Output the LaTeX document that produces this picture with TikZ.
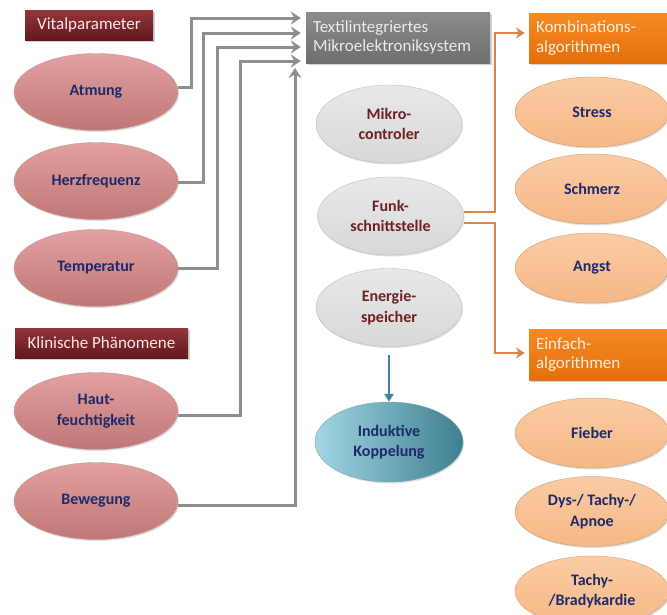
\documentclass[tikz,border=0pt]{standalone}
\usepackage{fontspec}
\setmainfont{Carlito}
\usetikzlibrary{shapes.geometric,arrows.meta,shadows}
\definecolor{hredT}{HTML}{93353A}
\definecolor{hredB}{HTML}{61181C}
\definecolor{hgrayT}{HTML}{8C8C8C}
\definecolor{hgrayB}{HTML}{6E6E6E}
\definecolor{horT}{HTML}{F58A22}
\definecolor{horB}{HTML}{E5700E}
\definecolor{rellT}{HTML}{E2A0A0}
\definecolor{rellB}{HTML}{C07676}
\definecolor{gellT}{HTML}{E8E8E8}
\definecolor{gellB}{HTML}{D8D8D8}
\definecolor{pellT}{HTML}{FBCBA3}
\definecolor{pellB}{HTML}{F5B886}
\definecolor{tellL}{HTML}{A2D6E3}
\definecolor{tellR}{HTML}{3E7F8F}
\definecolor{navy}{HTML}{1C2A6B}
\definecolor{dred}{HTML}{6E1F25}
\definecolor{gline}{HTML}{8E8E8E}
\definecolor{oline}{HTML}{DD8445}
\definecolor{tline}{HTML}{3C8797}
\tikzset{
  hdrbox/.style={rectangle, inner sep=0pt, font=\fontsize{17}{19.5}\selectfont,
    drop shadow={shadow xshift=1.5pt, shadow yshift=-1.5pt, opacity=0.35}},
  ellbase/.style={ellipse, inner sep=0pt, align=center,
    font=\bfseries\fontsize{16}{20.5}\selectfont,
    drop shadow={shadow xshift=1pt, shadow yshift=-1.5pt, opacity=0.25}},
  redell/.style={ellbase, minimum width=164pt, minimum height=77pt,
    top color=rellT, bottom color=rellB, draw=rellB!80!black!60, line width=0.4pt, text=navy},
  grayell/.style={ellbase, minimum width=146pt, minimum height=78pt,
    top color=gellT, bottom color=gellB, draw=black!25, line width=0.4pt, text=dred},
  peachell/.style={ellbase, minimum width=154pt, minimum height=70pt,
    top color=pellT, bottom color=pellB, draw=pellB!80!black, line width=0.3pt, text=navy},
  tealell/.style={ellbase, minimum width=148pt, minimum height=80pt,
    left color=tellL, right color=tellR, draw=tellR!70, line width=0.4pt, text=navy},
  garrow/.style={draw=gline, line width=3pt, -{Stealth[length=10pt,width=13pt,inset=3.5pt]}},
  oarrow/.style={draw=oline, line width=2.6pt, -{Stealth[length=9pt,width=11pt,inset=3pt]}},
  tarrow/.style={draw=tline, line width=2.4pt, -{Triangle[length=8pt,width=9pt]}}
}
\begin{document}
\begin{tikzpicture}[x=1pt,y=-1pt]
\useasboundingbox (0,0) rectangle (667,614);
\fill[white] (0,0) rectangle (667,614);
% header boxes
\node[hdrbox, top color=hredT, bottom color=hredB, text=white!90!red,
  minimum width=128pt, minimum height=30pt] (vital) at (89,25) {Vitalparameter};
\node[hdrbox, top color=hredT, bottom color=hredB, text=white!90!red,
  minimum width=173pt, minimum height=30pt] (klin) at (101.5,343) {Klinische Phänomene};
\node[hdrbox, top color=hgrayT, bottom color=hgrayB, text=white!92!black,
  minimum width=184pt, minimum height=51pt, text width=170pt, align=left] (tims) at (398,37.5)
  {Textilintegriertes\\Mikroelektroniksystem};
\node[hdrbox, top color=horT, bottom color=horB, text=white!85!orange,
  minimum width=143pt, minimum height=50pt, text width=129pt, align=left] (kombi) at (600.5,38)
  {Kombinations-\\algorithmen};
\node[hdrbox, top color=horT, bottom color=horB, text=white!85!orange,
  minimum width=143pt, minimum height=51pt, text width=129pt, align=left] (einf) at (600.5,354.5)
  {Einfach-\\algorithmen};
% left ellipses
\node[redell] (atm) at (96,92) {Atmung};
\node[redell] (herz) at (96,181) {Herzfrequenz};
\node[redell] (temp) at (96,268) {Temperatur};
\node[redell] (haut) at (96,411) {Haut-\\feuchtigkeit};
\node[redell] (bew) at (96,501) {Bewegung};
% middle ellipses
\node[grayell] (mikro) at (389,124) {Mikro-\\controler};
\node[grayell] (funk) at (390.5,216) {Funk-\\schnittstelle};
\node[grayell] (energ) at (389,307.5) {Energie-\\speicher};
\node[tealell] (induk) at (389,442) {Induktive\\Koppelung};
% right ellipses
\node[peachell] (stress) at (592,112) {Stress};
\node[peachell] (schm) at (592,189) {Schmerz};
\node[peachell] (angst) at (592,268) {Angst};
\node[peachell] (fieb) at (592,433) {Fieber};
\node[peachell] (dys) at (592,511.5) {Dys-/ Tachy-/\\Apnoe};
\node[peachell] (tachy) at (592,591) {Tachy-\\/Bradykardie};
% gray connectors
\coordinate (c1) at (191,18);
\coordinate (c2) at (203,33);
\coordinate (c3) at (217,47);
\coordinate (c4) at (240,61);
\coordinate (btip) at (295,68);
\draw[garrow, shorten >=5pt] ([yshift=5pt]atm.east) -| (c1) -- ([yshift=19.5pt]tims.west);
\draw[garrow, shorten >=5pt] ([yshift=-1pt]herz.east) -| (c2) -- ([yshift=4.5pt]tims.west);
\draw[garrow, shorten >=5pt] (temp.east) -| (c3) -- ([yshift=-9.5pt]tims.west);
\draw[garrow, shorten >=5pt] ([yshift=-4pt]haut.east) -| (c4) -- ([yshift=-23.5pt]tims.west);
\draw[garrow] ([yshift=-4pt]bew.east) -| (btip);
% orange connectors
\coordinate (o1) at (495,33);
\coordinate (o2) at (495,353);
\draw[oarrow, shorten >=4pt] ([yshift=4pt]funk.east) -| (o1) -- ([yshift=5pt]kombi.west);
\draw[oarrow, shorten >=4pt] ([yshift=-7pt]funk.east) -| (o2) -- ([yshift=1.5pt]einf.west);
% teal connector
\draw[tarrow] ([yshift=-8pt]energ.south) -- (induk.north);
\end{tikzpicture}
\end{document}
